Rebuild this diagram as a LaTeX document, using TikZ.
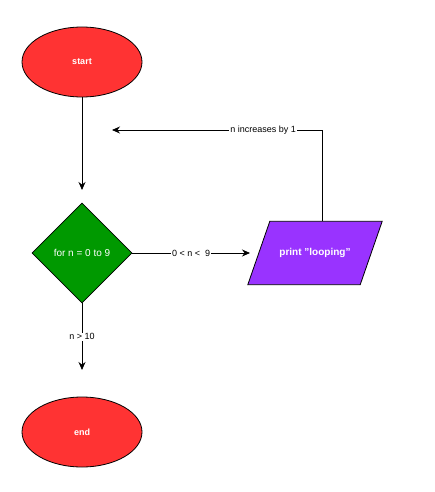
\documentclass[tikz,border=0pt]{standalone}
\usepackage{fontspec}
\setmainfont{Liberation Sans}
\usetikzlibrary{shapes.geometric,positioning,calc,arrows.meta}
\definecolor{startred}{HTML}{FF3333}
\definecolor{loopgreen}{HTML}{009900}
\definecolor{printpurple}{HTML}{9933FF}
\tikzset{
  term/.style={ellipse,draw,thick,fill=startred,minimum width=120pt,minimum height=70pt,font=\bfseries\small,text=white},
  decide/.style={diamond,draw,thick,fill=loopgreen,minimum width=100pt,minimum height=100pt,inner sep=0pt,font=\normalsize,text=white},
  io/.style={rectangle,minimum width=112pt,minimum height=63pt,inner sep=0pt,font=\bfseries\normalsize,text=white},
  flow/.style={-{Stealth[length=8pt,width=7pt]},thick},
  lbl/.style={fill=white,inner sep=1pt,font=\small}
}
\begin{document}
\begin{tikzpicture}[x=1pt,y=-1pt]
  \useasboundingbox (0,0) rectangle (435,492);
           \node[term]   (start)   at (82,62)    {start};
           \node[decide] (forloop) at (82,253)   {for n = 0 to 9};
           \node[io]     (print)   at (315,253)  {};
            % parallelogram outline
            \draw[thick,fill=printpurple] ($(print.south west)+(-11,0)$) -- ($(print.south east)+(-11,0)$)
              -- ($(print.north east)+(11,0)$) -- ($(print.north west)+(11,0)$) -- cycle;
           \node[io] at (print) {print "looping"};
           \node[term]   (stop)    at (82,432)   {end};
           \coordinate (back) at (112,130);
           \coordinate (corner) at (322,130);
           \coordinate (intop) at (82,190);
           \coordinate (inend) at (82,370);
           \coordinate (inprint) at (250,253);
            \draw[flow] (start.south) -- (intop);
            \draw[flow] (forloop.east) -- node[lbl] {0 < n <\ \ 9} (inprint);
            \draw[flow] (print.north -| corner) -- (corner) -- node[lbl,pos=0.28] {n increases by 1} (back);
            \draw[flow] (forloop.south) -- node[lbl,pos=0.5] {n > 10} (inend);
\end{tikzpicture}
\end{document}
